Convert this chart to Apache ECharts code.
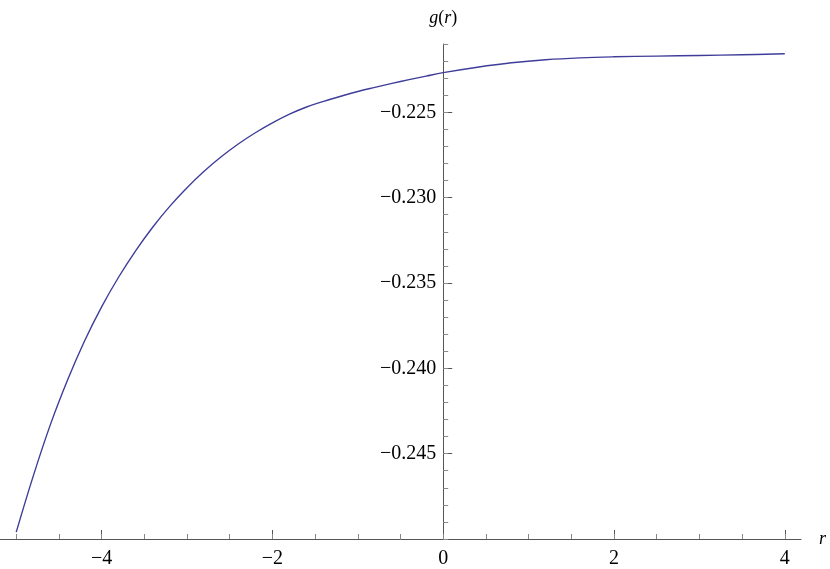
<!DOCTYPE html>
<html>
<head>
<meta charset="utf-8">
<script src="https://cdn.jsdelivr.net/npm/echarts@6/dist/echarts.min.js"></script>
<style>
  html, body { margin: 0; padding: 0; background: #fff; }
  #main { width: 830px; height: 569px; }
</style>
</head>
<body>
<div id="main"></div>
<script>
    // r 的取值和 g(r) 的读数（从图上估计）
    var rValues = [-5, -4.8, -4.6, -4.4, -4.2, -4, -3.8, -3.6, -3.4, -3.2, -3, -2.8, -2.6, -2.4, -2.2, -2,
        -1.8, -1.6, -1.4, -1.2, -1, -0.8, -0.6, -0.4, -0.2, 0, 0.4, 0.8, 1.2, 1.6, 2, 2.5, 3, 3.5, 4];
    var gValues = [-0.2496, -0.2463, -0.2433, -0.2407, -0.2384, -0.2364, -0.23465, -0.2331, -0.23172,
        -0.2305, -0.22942, -0.22846, -0.22761, -0.22686, -0.2262, -0.22562, -0.22511, -0.22469, -0.22436,
        -0.22406, -0.22378, -0.22354, -0.22331, -0.22309, -0.22288, -0.22268, -0.22236, -0.2221, -0.22192,
        -0.22181, -0.22175, -0.22171, -0.22167, -0.22163, -0.22157];

    // 刻度
    var xMajorTicks = [-4, -2, 0, 2, 4];
    var xMinorTicks = [-5, -4.5, -4, -3.5, -3, -2.5, -2, -1.5, -1, -0.5, 0, 0.5, 1, 1.5, 2, 2.5, 3, 3.5, 4];
    var yMajorTicks = [-0.245, -0.240, -0.235, -0.230, -0.225];
    var yMinorTicks = [-0.250, -0.249, -0.248, -0.247, -0.246, -0.245, -0.244, -0.243, -0.242, -0.241,
        -0.240, -0.239, -0.238, -0.237, -0.236, -0.235, -0.234, -0.233, -0.232, -0.231,
        -0.230, -0.229, -0.228, -0.227, -0.226, -0.225, -0.224, -0.223, -0.222, -0.221];

    var serif = '"Liberation Serif", "DejaVu Serif", serif';
    var axisColor = '#555';

    // x 轴范围（两端比数据略长）
    var xMin = -5.19, xMax = 4.19;
    var gridLeft = 0, gridRight = 29, chartWidth = 830;
    // 纵轴放在 r = 0 处
    var yAxisShift = -(gridLeft + (0 - xMin) / (xMax - xMin) * (chartWidth - gridLeft - gridRight));

    var seriesData = rValues.map(function (r, i) { return [r, gValues[i]]; });

    function minus(v, digits) {
        var s = Math.abs(v).toFixed(digits);
        return v < 0 ? '\u2212' + s : s;
    }

    var myChart = echarts.init(document.getElementById('main'));
    var option = {
        animation: false,
        grid: { left: gridLeft, right: gridRight, top: 44, bottom: 30, containLabel: false, outerBoundsMode: 'none' },
        xAxis: [
            {
                type: 'value',
                min: xMin,
                max: xMax,
                position: 'bottom',
                name: 'r',
                nameLocation: 'end',
                nameGap: 18,
                nameTextStyle: { fontFamily: serif, fontStyle: 'italic', fontSize: 18, color: '#000' },
                axisLine: { show: true, onZero: false, lineStyle: { color: axisColor, width: 1 } },
                axisTick: { show: true, inside: true, length: 9, customValues: xMajorTicks,
                    lineStyle: { color: axisColor } },
                axisLabel: { customValues: xMajorTicks, margin: 10, fontFamily: serif, fontSize: 20, color: '#000',
                    formatter: function (v) { return minus(v, 0); } },
                splitLine: { show: false }
            },
            {
                type: 'value',
                min: xMin,
                max: xMax,
                position: 'bottom',
                axisLine: { show: false, onZero: false },
                axisTick: { show: true, inside: true, length: 5, customValues: xMinorTicks,
                    lineStyle: { color: '#888' } },
                axisLabel: { show: false },
                splitLine: { show: false }
            }
        ],
        yAxis: [
            {
                type: 'value',
                min: -0.25,
                max: -0.221,
                position: 'left',
                offset: yAxisShift,
                name: '{i|g}({i|r})',
                nameLocation: 'end',
                nameGap: 17,
                nameTextStyle: {
                    fontFamily: serif, fontSize: 18, color: '#000',
                    rich: { i: { fontFamily: serif, fontStyle: 'italic', fontSize: 18, color: '#000' } }
                },
                axisLine: { show: true, onZero: false, lineStyle: { color: axisColor, width: 1 } },
                axisTick: { show: true, inside: true, length: 9, customValues: yMajorTicks,
                    lineStyle: { color: axisColor } },
                axisLabel: { customValues: yMajorTicks, margin: 7, fontFamily: serif, fontSize: 20, color: '#000',
                    formatter: function (v) { return minus(v, 3); } },
                splitLine: { show: false }
            },
            {
                type: 'value',
                min: -0.25,
                max: -0.221,
                position: 'left',
                offset: yAxisShift,
                axisLine: { show: false, onZero: false },
                axisTick: { show: true, inside: true, length: 5, customValues: yMinorTicks,
                    lineStyle: { color: '#888' } },
                axisLabel: { show: false },
                splitLine: { show: false }
            }
        ],
        series: [
            {
                type: 'line',
                xAxisIndex: 0,
                yAxisIndex: 0,
                data: seriesData,
                smooth: 0.4,
                showSymbol: false,
                lineStyle: { color: '#3f3d99', width: 1.4 }
            }
        ]
    };
    myChart.setOption(option);
</script>
</body>
</html>
